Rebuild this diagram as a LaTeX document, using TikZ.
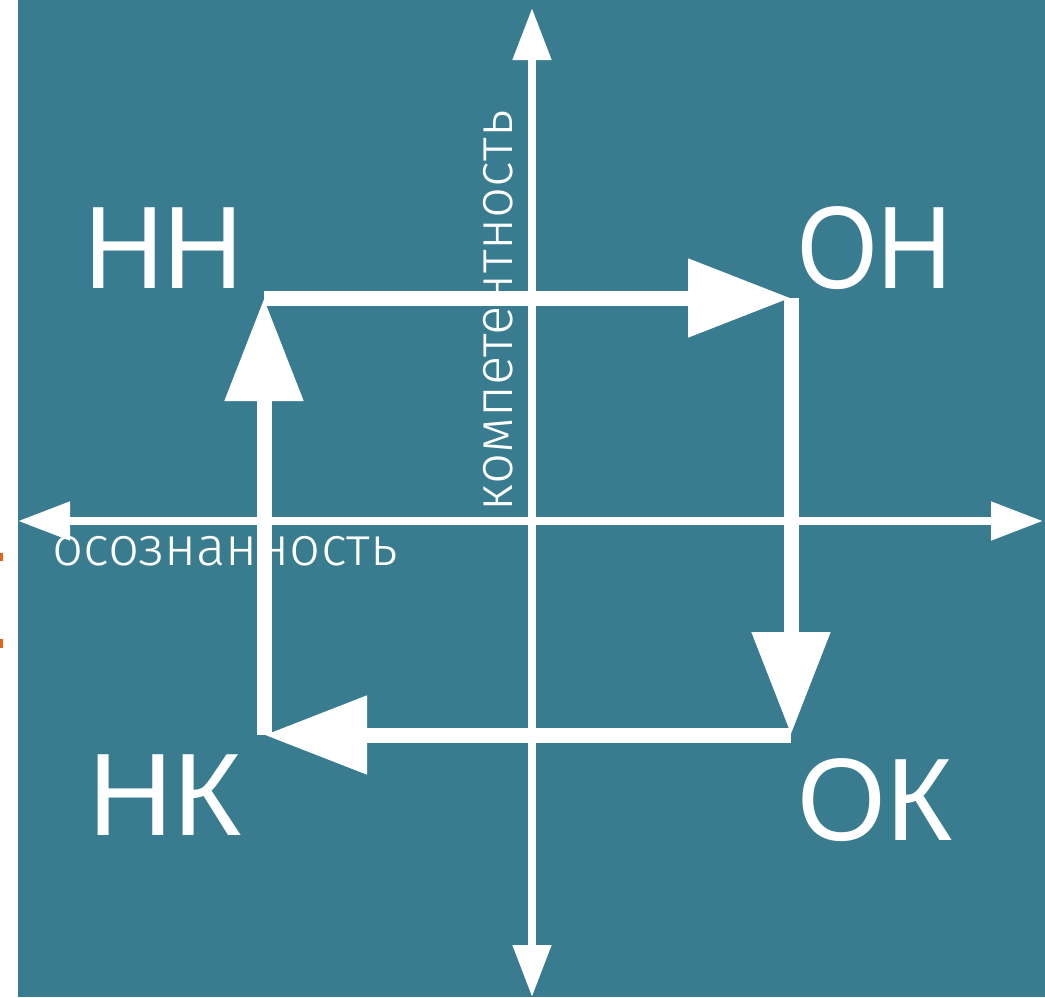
\documentclass[tikz,border=0pt]{standalone}
\usepackage{fontspec}
\setmainfont{Liberation Sans}
\newfontfamily\lightfont{Fira Sans Light}
\usetikzlibrary{arrows.meta,positioning}
\definecolor{quadteal}{RGB}{58,124,143}
\definecolor{markorange}{RGB}{232,98,28}

\begin{document}
\begin{tikzpicture}[x=0.5pt,y=-0.5pt,
    axis/.style={white,line width=4pt,{Triangle[length=26pt,width=18.5pt]}-{Triangle[length=26pt,width=18.5pt]}},
    bigarrow/.style={white,line width=7.5pt,-{Triangle[length=51.5pt,width=37.5pt]}},
    corner/.style={white,inner sep=0pt,anchor=base,font=\fontsize{58.7}{60}\selectfont},
    axislabel/.style={white,inner sep=0pt,anchor=base,font=\lightfont\fontsize{27.3}{29}\selectfont}]
            \useasboundingbox (0,0) rectangle (1045,997);
            \fill[quadteal] (18,0) rectangle (1045,997);
            \fill[markorange] (0,553) rectangle (3,561);
            \fill[markorange] (0,639) rectangle (3,648);
            % axes
            \coordinate (axL) at (18,521);
            \coordinate (axR) at (1043,521);
            \coordinate (axT) at (532,8);
            \coordinate (axB) at (532,997);
            \draw[axis] (axL) -- (axR);
            \draw[axis] (axB) -- (axT);
            \node[axislabel] (awareness) at (225,565) {осознанность};
            \node[axislabel,rotate=90] (competence) at (512,311) {компетентность};
            % quadrants
            \node[corner] (nn) at (164,288) {\scalebox{0.94}[1]{НН}};
            \node[corner] (on) at (875,288) {\scalebox{0.88}[1]{ОН}};
            \node[corner] (nk) at (165,835) {НК};
            \node[corner] (ok) at (875,840) {\scalebox{0.97}[1]{ОК}};
            \coordinate (cNN) at (264,298);
            \coordinate (cON) at (791,298);
            \coordinate (cOK) at (791,735);
            \coordinate (cNK) at (264,735);
            \draw[bigarrow] (cNN) -- (cON);
            \draw[bigarrow] (cON) -- (cOK);
            \draw[bigarrow] (cOK) -- (cNK);
            \draw[bigarrow] (cNK) -- (cNN);
          \end{tikzpicture}
\end{document}
